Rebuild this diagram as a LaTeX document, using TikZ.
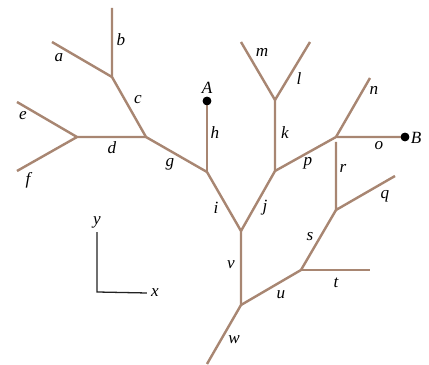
\documentclass[tikz,border=0pt]{standalone}
\usepackage{fontspec}
\setmainfont{Liberation Serif}
\usepackage{xcolor}
\usepackage{tikz}
\usetikzlibrary{calc}
\definecolor{wirec}{HTML}{A88672}
\definecolor{axc}{HTML}{222222}
\tikzset{
  wire/.style={line width=1.7pt,wirec},
  lbl/.style={font=\itshape\fontsize{12}{12}\selectfont,inner sep=0pt},
  dot/.style={circle,fill=black,minimum size=6pt,inner sep=0pt},
  ax/.style={line width=0.9pt,axc}
}
\begin{document}
\begin{tikzpicture}[x=0.7pt,y=-0.7pt]
\useasboundingbox (0,0) rectangle (429,365);
% junctions and free ends
\coordinate (Pw) at (207,364); \coordinate (Juv) at (241,305);
\coordinate (Jij) at (241,231); \coordinate (Jgh) at (207,172);
\coordinate (Jcg) at (146,137); \coordinate (Jef) at (77,137);
\coordinate (Pe) at (17,102); \coordinate (Pf) at (17,171);
\coordinate (Jab) at (112,77); \coordinate (Pb) at (112,8);
\coordinate (Pa) at (52,42);
\coordinate (Jjk) at (275,171); \coordinate (Jlm) at (275,100);
\coordinate (Pm) at (241,42); \coordinate (Pl) at (310,42);
\coordinate (Jpo) at (336,137); \coordinate (Pn) at (370,78);
\coordinate (Pr) at (336,142); \coordinate (Jrq) at (336,210);
\coordinate (Pq) at (395,176);
\coordinate (Jst) at (301,270); \coordinate (Pt) at (370,270);
\node[dot] (A) at (207,101) {};
\node[dot] (B) at (405,137) {};
% wires
\draw[wire] (Pw) -- (Juv) -- (Jij) -- (Jgh) -- (Jcg) -- (Jab) -- (Pb);
\draw[wire] (Jab) -- (Pa);
\draw[wire] (Jcg) -- (Jef) -- (Pe);
\draw[wire] (Jef) -- (Pf);
\draw[wire] (Jgh) -- (A.center);
\draw[wire] (Jij) -- (Jjk) -- (Jlm) -- (Pm);
\draw[wire] (Jlm) -- (Pl);
\draw[wire] (Jjk) -- (Jpo) -- (B.center);
\draw[wire] (Jpo) -- (Pn);
\draw[wire] (Pr) -- (Jrq) -- (Pq);
\draw[wire] (Jrq) -- (Jst) -- (Juv);
\draw[wire] (Jst) -- (Pt);
\node[dot] at (A) {};
\node[dot] at (B) {};
% labels
\node[lbl] (la) at (59,58) {a};
\node[lbl] (lb) at (121,40) {b};
\node[lbl] (lc) at (138,100) {c};
\node[lbl] (ld) at (112,148) {d};
\node[lbl] (le) at (23,116) {e};
\node[lbl] (lf) at (28,180) {f};
\node[lbl] (lg) at (170,164) {g};
\node[lbl] (lh) at (215,133) {h};
\node[lbl] (lA) at (207,88) {A};
\node[lbl] (li) at (216,208) {i};
\node[lbl] (lj) at (265,208) {j};
\node[lbl] (lk) at (285,133) {k};
\node[lbl] (ll) at (299,79) {l};
\node[lbl] (lm) at (262,52) {m};
\node[lbl] (ln) at (374,90) {n};
\node[lbl] (lo) at (379,146) {o};
\node[lbl] (lB) at (416,138) {B};
\node[lbl] (lp) at (308,163) {p};
\node[lbl] (lr) at (343,168) {r};
\node[lbl] (lq) at (385,196) {q};
\node[lbl] (ls) at (310,237) {s};
\node[lbl] (lt) at (336,283) {t};
\node[lbl] (lu) at (281,295) {u};
\node[lbl] (lv) at (231,265) {v};
\node[lbl] (lw) at (234,340) {w};
% axes
\coordinate (O) at (97,292);
\node[lbl] (ly) at (97,222) {y};
\node[lbl] (lx) at (155,293) {x};
\draw[ax] (ly.south) ++(0,4) -- (O) -- ($(lx.west)+(-4,0)$);
\end{tikzpicture}
\end{document}
